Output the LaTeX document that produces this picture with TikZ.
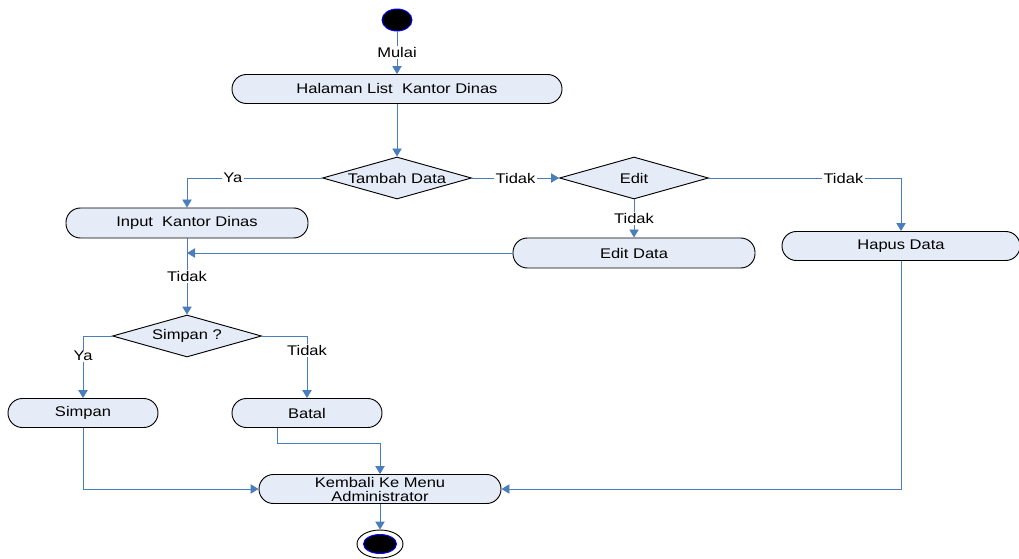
\documentclass[tikz,border=0pt]{standalone}
\usepackage{fontspec}
\setmainfont{Liberation Sans}[FakeStretch=1.18]
\usepackage{tikz}
\usetikzlibrary{arrows.meta,%
                shapes.geometric}
\definecolor{flowblue}{RGB}{74,126,187}
\definecolor{actfill}{RGB}{230,236,247}

\begin{document}
\begin{tikzpicture}[x=0.75pt,y=-0.75pt,line width=0.7pt]
  \tikzstyle{every node} = [font=\fontsize{10.5}{10.5}\selectfont]
  \tikzstyle{activity} = [rectangle, rounded corners=10.8pt, draw=black,
                          fill=actfill, inner sep=0pt, align=center]
  \tikzstyle{decision} = [diamond, aspect=3.5, draw=black, fill=actfill,
                          inner sep=0pt, minimum width=111.75pt,
                          minimum height=31.5pt]
  \tikzstyle{flow} = [draw=flowblue, -{Triangle[width=7pt,length=6pt]}]
  \tikzstyle{lbl} = [fill=white, inner sep=1pt]
\useasboundingbox (0,0) rectangle (1019,559);

\node[ellipse, draw=blue, fill=black, minimum width=22.5pt,
      minimum height=16.5pt] (start) at (397,20) {};
\node[activity, minimum width=247.5pt, minimum height=21.75pt] (halaman) at (397,89) {Halaman List~ Kantor Dinas};
\node[decision] (tambah) at (397,178) {Tambah Data};
\node[decision] (edit) at (634,178) {Edit};
\node[activity, minimum width=181.5pt, minimum height=22.5pt] (input) at (187,223) {Input~ Kantor Dinas};
\node[activity, minimum width=181.5pt, minimum height=22.5pt] (editdata) at (634,253) {Edit Data};
\node[activity, minimum width=178.5pt, minimum height=21.75pt] (hapus) at (901,246) {Hapus Data};
\node[decision] (simpanq) at (187,336) {Simpan ?};
\node[activity, minimum width=112.5pt, minimum height=21.75pt] (simpan) at (83,413) {Simpan};
\node[activity, minimum width=112.5pt, minimum height=21.75pt] (batal) at (307,413) {Batal};
\node[activity, minimum width=181.5pt, minimum height=21.75pt] (kembali) at (380,489) {Kembali Ke Menu\\Administrator};
\node[ellipse, draw=black, fill=white, minimum width=34.5pt,
      minimum height=21pt] (end) at (380,544) {};
\node[ellipse, draw=blue, fill=black, minimum width=24.75pt,
      minimum height=14.25pt] (endin) at (end.center) {};

\draw[flow] (start) -- node[lbl]{Mulai} (halaman);
\draw[flow] (halaman) -- (tambah);
\draw[flow] (tambah.west) -| node[lbl, pos=0.33]{Ya} (input.north);
\draw[flow] (tambah.east) -- node[lbl]{Tidak} (edit.west);
\draw[flow] (edit.south) -- node[lbl]{Tidak} (editdata.north);
\draw[flow] (edit.east) -| node[lbl, pos=0.35]{Tidak} (hapus.north);
\draw[flow] (editdata.west) -- (input.south |- editdata.west);
\draw[flow] (input.south) -- node[lbl]{Tidak} (simpanq.north);
\draw[flow] (simpanq.west) -| node[lbl, pos=0.66]{Ya} (simpan.north);
\draw[flow] (simpanq.east) -| node[lbl, pos=0.62]{Tidak} (batal.north);
\draw[flow] (simpan.south) |- (kembali.west);
\draw[flow] ([xshift=-22.5pt]batal.south) -- ++(0,15) -| (kembali.north);
\draw[flow] (hapus.south) |- (kembali.east);
\draw[flow] (kembali) -- (end);

\end{tikzpicture}
\end{document}
